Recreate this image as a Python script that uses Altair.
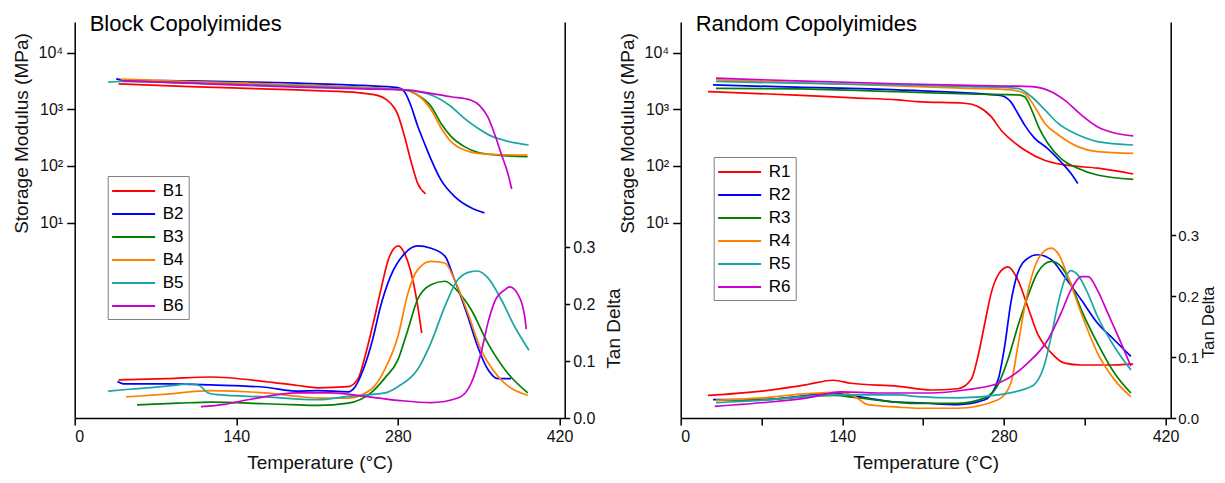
import altair as alt
import pandas as pd

FONT = "Liberation Sans"
COLORS = ["#ff0000", "#0000ff", "#008000", "#ff8000", "#1aa6a6", "#cc00cc"]

# ---------------- Block copolyimides ----------------
B_NAMES = ["B1", "B2", "B3", "B4", "B5", "B6"]

# storage modulus (MPa)
B1_mod_T = [38, 100, 150, 193, 222, 251, 263, 270, 277, 280, 286, 291.5, 297, 304]
B1_mod = [2800, 2510, 2340, 2190, 2090, 1905, 1740, 1480, 1050, 795, 316, 117, 50, 32]
B2_mod_T = [36, 40, 100, 150, 193, 250, 280, 285.7, 291.5, 297.2, 303, 308.8, 317.4, 329, 343.4, 355]
B2_mod = [3430, 3310, 3160, 3020, 2880, 2630, 2400, 2040, 1120, 500, 251, 129, 56, 29, 18.2, 14.8]
B3_mod_T = [48, 100, 150, 193, 250, 285.7, 297, 308.8, 317.4, 326, 337.6, 349, 366.4, 392.4]
B3_mod = [3160, 2950, 2750, 2630, 2400, 2190, 1780, 1120, 562, 331, 219, 174, 155, 145]
B4_mod_T = [40, 100, 150, 193, 250, 285.7, 297, 308.8, 317.4, 326, 337.6, 349, 366.4, 392.4]
B4_mod = [3390, 3090, 2880, 2690, 2400, 2190, 1780, 977, 468, 269, 191, 166, 158, 155]
B5_mod_T = [29, 40, 100, 150, 193, 250, 285.7, 308.8, 326, 337.6, 349, 360.6, 372.2, 393.2]
B5_mod = [3020, 3090, 2880, 2690, 2570, 2340, 2190, 1780, 1120, 692, 468, 339, 282, 234]
B6_mod_T = [42, 100, 150, 193, 250, 285.7, 308.8, 326, 343.4, 350.6, 357.8, 363.6, 369.4, 375.2, 378.6]
B6_mod = [3160, 2880, 2630, 2455, 2290, 2190, 1905, 1660, 1445, 1175, 741, 372, 166, 74, 39]

# tan delta
B1_tan_T = [38, 80, 118, 165, 193, 211, 237, 245.7, 251.5, 258.7, 265.9, 271.7, 280.3, 285.7, 291.5, 297.2, 300.6]
B1_tan = [0.067, 0.069, 0.072, 0.064, 0.057, 0.053, 0.055, 0.070, 0.108, 0.167, 0.231, 0.278, 0.302, 0.289, 0.254, 0.196, 0.149]
B2_tan_T = [37, 42, 80, 118, 165, 193.5, 211, 237, 243, 250, 258, 265, 273.5, 286, 297, 308.6, 320.7, 329, 340.6, 349, 358, 366.7, 378]
B2_tan = [0.064, 0.060, 0.060, 0.058, 0.054, 0.047, 0.048, 0.046, 0.055, 0.085, 0.137, 0.196, 0.248, 0.289, 0.302, 0.298, 0.284, 0.243, 0.178, 0.126, 0.085, 0.069, 0.069]
B3_tan_T = [54, 90, 118, 165, 193.5, 211, 237, 256.6, 268.6, 280, 288.7, 297, 308.6, 320.7, 332, 343.5, 358, 375, 392.5]
B3_tan = [0.023, 0.026, 0.028, 0.025, 0.023, 0.022, 0.026, 0.044, 0.070, 0.102, 0.155, 0.208, 0.234, 0.240, 0.222, 0.190, 0.131, 0.079, 0.044]
B4_tan_T = [44.5, 80, 118, 165, 193.5, 211, 237, 256.6, 268.6, 280, 288.7, 297, 308.6, 320.7, 329, 340.6, 352, 366.7, 392.5]
B4_tan = [0.037, 0.042, 0.048, 0.044, 0.038, 0.035, 0.035, 0.050, 0.085, 0.143, 0.219, 0.260, 0.275, 0.272, 0.243, 0.184, 0.120, 0.073, 0.040]
B5_tan_T = [29, 45, 63.5, 90, 100, 108, 115.6, 124, 165, 210.6, 237, 268.6, 280, 297, 308.6, 320.7, 332, 343.5, 349, 358, 369.5, 381, 393.5]
B5_tan = [0.047, 0.050, 0.053, 0.058, 0.060, 0.057, 0.044, 0.041, 0.037, 0.032, 0.038, 0.044, 0.055, 0.085, 0.132, 0.196, 0.243, 0.257, 0.258, 0.246, 0.208, 0.161, 0.119]
B6_tan_T = [109.4, 130, 150, 193.5, 222, 251.5, 280, 308.6, 332, 343.5, 352, 358, 364, 372.6, 376.8, 384, 389.8, 391.2]
B6_tan = [0.020, 0.024, 0.032, 0.044, 0.044, 0.038, 0.031, 0.027, 0.035, 0.061, 0.114, 0.167, 0.205, 0.225, 0.230, 0.217, 0.179, 0.156]

# ---------------- Random copolyimides ----------------
R_NAMES = ["R1", "R2", "R3", "R4", "R5", "R6"]

R1_mod_T = [23.6, 100, 150, 188, 205, 246, 257.5, 269, 277.6, 286.3, 297.9, 315.2, 332.5, 361.4, 392]
R1_mod = [2040, 1780, 1585, 1460, 1360, 1275, 1120, 741, 427, 288, 191, 126, 104, 91, 72]
R2_mod_T = [28, 100, 188, 275, 280.6, 286, 292, 298, 306.5, 317.7, 329.5, 338, 344]
R2_mod = [2690, 2455, 2190, 1780, 1660, 1350, 851, 525, 309, 204, 117, 74, 49]
R3_mod_T = [30.6, 100, 188, 250, 292, 298, 304, 310, 318, 329.5, 344, 361, 392]
R3_mod = [2340, 2290, 2040, 1860, 1800, 1660, 977, 490, 251, 135, 91, 69, 58]
R4_mod_T = [30.6, 100, 188, 250, 286, 298, 306.5, 315.5, 327, 344, 361, 392]
R4_mod = [3310, 2950, 2570, 2340, 2190, 1905, 1120, 562, 355, 219, 178, 166]
R5_mod_T = [30.6, 100, 188, 250, 292, 304, 315.5, 327, 344, 361, 392]
R5_mod = [3090, 2880, 2690, 2510, 2340, 1660, 977, 562, 355, 269, 234]
R6_mod_T = [30.6, 100, 188, 250, 304, 321, 332.6, 347, 361, 375.7, 392]
R6_mod = [3550, 3160, 2820, 2630, 2510, 2040, 1445, 794, 490, 380, 339]

R1_tan_T = [23.6, 70, 110, 132, 147.5, 188.5, 217, 240, 251.6, 257.5, 263.5, 269, 275, 283.5, 292, 300.6, 309, 321, 332.6, 347, 370, 392]
R1_tan = [0.037, 0.044, 0.055, 0.062, 0.057, 0.052, 0.046, 0.048, 0.063, 0.101, 0.156, 0.205, 0.235, 0.248, 0.227, 0.183, 0.139, 0.107, 0.090, 0.087, 0.087, 0.089]
R2_tan_T = [28, 70, 110, 132, 153.6, 188.5, 205.6, 240, 263.5, 275, 280.6, 286, 292, 300.6, 309, 321, 332.6, 347, 361, 375.7, 390]
R2_tan = [0.030, 0.030, 0.037, 0.041, 0.035, 0.026, 0.025, 0.022, 0.030, 0.063, 0.117, 0.189, 0.238, 0.262, 0.268, 0.260, 0.232, 0.194, 0.156, 0.128, 0.101]
R3_tan_T = [30.6, 70, 132, 153.6, 205.6, 240, 263.5, 275, 283.5, 292, 300.6, 309, 321, 329.5, 338, 347, 361, 375.7, 390]
R3_tan = [0.029, 0.030, 0.037, 0.033, 0.024, 0.024, 0.033, 0.055, 0.096, 0.150, 0.199, 0.238, 0.257, 0.249, 0.221, 0.178, 0.123, 0.074, 0.041]
R4_tan_T = [30.6, 70, 110, 139, 151, 162, 188.5, 205.6, 240, 275, 286, 292, 298, 304, 312, 321, 327, 335.5, 347, 361, 375.7, 390]
R4_tan = [0.029, 0.033, 0.040, 0.042, 0.035, 0.022, 0.018, 0.016, 0.016, 0.030, 0.057, 0.117, 0.183, 0.232, 0.268, 0.279, 0.270, 0.232, 0.172, 0.107, 0.063, 0.035]
R5_tan_T = [30.6, 70, 132, 188.5, 205.6, 240, 275, 304, 315.5, 321, 327, 332.6, 338, 344, 352.6, 361, 375.7, 390]
R5_tan = [0.025, 0.029, 0.038, 0.038, 0.035, 0.033, 0.038, 0.052, 0.090, 0.134, 0.189, 0.227, 0.242, 0.235, 0.205, 0.167, 0.117, 0.079]
R6_tan_T = [29.5, 70, 110, 139, 171, 217, 246, 275, 300.6, 318, 329.5, 338, 347, 353, 361, 370, 379, 390]
R6_tan = [0.019, 0.025, 0.033, 0.043, 0.041, 0.041, 0.046, 0.057, 0.090, 0.128, 0.172, 0.210, 0.232, 0.232, 0.210, 0.172, 0.134, 0.085]

X_TICKS_B = [0, 140, 280, 420]
X_TICKS_R = [0, 70, 140, 210, 280, 350, 420]
MOD_TICKS = [10, 100, 1000, 10000]
TAN_TICKS = [0.0, 0.1, 0.2, 0.3]


def long_table(names, Ts, Vs):
    rows = []
    for n, ts, vs in zip(names, Ts, Vs):
        for t, v in zip(ts, vs):
            rows.append({"s": n, "T": t, "v": v})
    return pd.DataFrame(rows)


SUP = ("'10' + (datum.value == 10 ? '\u00b9' : datum.value == 100 ? '\u00b2' : "
       "datum.value == 1000 ? '\u00b3' : '\u2074')")


def panel(title, names, modT, modV, tanT, tanV, tan_max, xticks, legend_y,
          tan_title_y, tan_label_pad, tan_title_x, tan_title_size, tan_label_size):
    color = alt.Color(
        "s:N",
        scale=alt.Scale(domain=names, range=COLORS),
        legend=alt.Legend(
            title=None, orient="none", legendX=33, legendY=legend_y,
            symbolType="M-1.23,0H3.77", symbolSize=296, symbolStrokeWidth=2,
            labelFontSize=17, labelFont=FONT, labelColor="black",
            strokeColor="#808080", fillColor="white", padding=5,
            labelOffset=30, rowPadding=5,
        ),
    )
    x = alt.X(
        "T:Q",
        scale=alt.Scale(domain=[0, 424.5], nice=False, zero=False),
        axis=alt.Axis(
            values=xticks, title="Temperature (\u00b0C)",
            labelExpr="datum.value % 140 == 0 ? datum.label : ''",
            tickSize=7, labelPadding=3, titlePadding=9,
        ),
    )
    mod = alt.Chart(long_table(names, modT, modV)).mark_line(
        strokeWidth=1.7, interpolate="monotone"
    ).encode(
        x=x,
        y=alt.Y(
            "v:Q",
            scale=alt.Scale(type="log", domain=[10 ** -2.45, 10 ** 4.54], nice=False),
            axis=alt.Axis(
                values=MOD_TICKS, labelExpr=SUP, orient="left",
                title="Storage Modulus (MPa)", titleY=111,
                tickSize=8, labelPadding=4, titlePadding=7,
            ),
        ),
        color=color,
    )
    tan = alt.Chart(long_table(names, tanT, tanV)).mark_line(
        strokeWidth=1.7, interpolate="monotone"
    ).encode(
        x=x,
        y=alt.Y(
            "v:Q",
            scale=alt.Scale(domain=[0, tan_max], nice=False, zero=False),
            axis=alt.Axis(
                values=TAN_TICKS, format=".1f", orient="right",
                title="Tan Delta", titleAngle=270, titleBaseline="top",
                titleY=tan_title_y, titleX=tan_title_x, tickSize=5,
                labelPadding=tan_label_pad, titleFontSize=tan_title_size,
                labelFontSize=tan_label_size,
            ),
        ),
        color=color,
    )
    return alt.layer(mod, tan).resolve_scale(y="independent").properties(
        width=490, height=396,
        title=alt.TitleParams(
            title, anchor="start", frame="group", fontSize=22, font=FONT,
            fontWeight="normal", color="black", offset=0, dx=15, dy=31,
            baseline="alphabetic",
        ),
    )


left = panel(
    "Block Copolyimides", B_NAMES,
    [B1_mod_T, B2_mod_T, B3_mod_T, B4_mod_T, B5_mod_T, B6_mod_T],
    [B1_mod, B2_mod, B3_mod, B4_mod, B5_mod, B6_mod],
    [B1_tan_T, B2_tan_T, B3_tan_T, B4_tan_T, B5_tan_T, B6_tan_T],
    [B1_tan, B2_tan, B3_tan, B4_tan, B5_tan, B6_tan],
    0.695, X_TICKS_B, 154, 306, 3, 40, 19, 16,
)
right = panel(
    "Random Copolyimides", R_NAMES,
    [R1_mod_T, R2_mod_T, R3_mod_T, R4_mod_T, R5_mod_T, R6_mod_T],
    [R1_mod, R2_mod, R3_mod, R4_mod, R5_mod, R6_mod],
    [R1_tan_T, R2_tan_T, R3_tan_T, R4_tan_T, R5_tan_T, R6_tan_T],
    [R1_tan, R2_tan, R3_tan, R4_tan, R5_tan, R6_tan],
    0.65, X_TICKS_R, 135, 300, 2, 30, 17, 15,
)

chart = alt.hconcat(left, right, spacing=116, bounds="flush").resolve_scale(
    color="independent"
).properties(
    autosize=alt.AutoSizeParams(type="none"),
    padding={"left": 66.7, "top": 14, "right": 1142.3, "bottom": 451},
).configure(font=FONT).configure_view(stroke="transparent").configure_axis(
    grid=False, domainColor="black", domainWidth=1.5, tickColor="black",
    tickWidth=1.5, labelFont=FONT, labelFontSize=16, labelColor="#111",
    titleFont=FONT, titleFontSize=19, titleFontWeight="normal", titleColor="#111",
)

chart.save("out.html", embed_options={"renderer": "svg", "actions": False})
